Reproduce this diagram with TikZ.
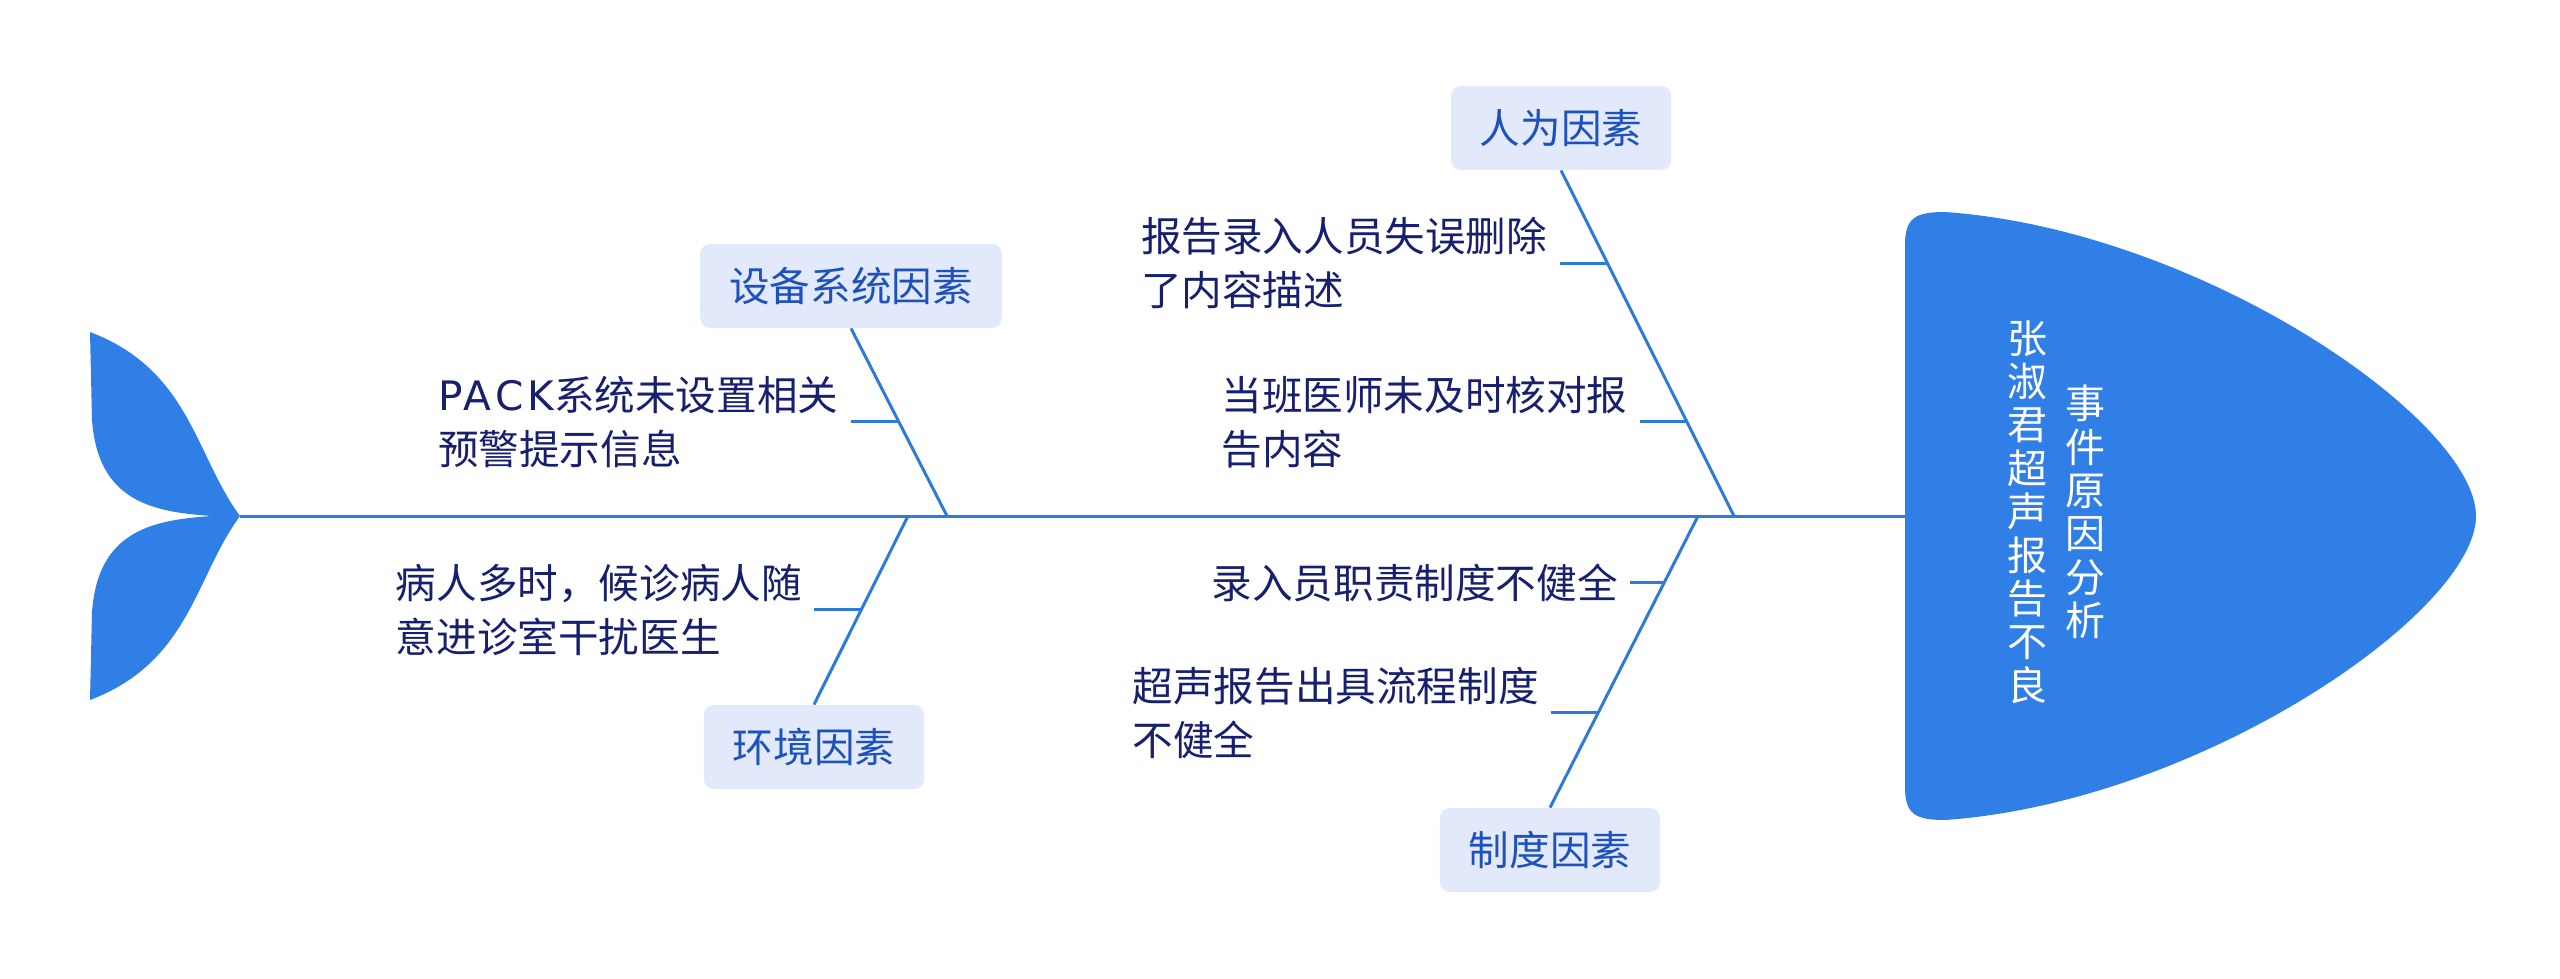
\documentclass[tikz,border=0pt]{standalone}
\usepackage{fontspec}
\setmainfont{Noto Sans CJK SC}
\newfontfamily\latinfont[LetterSpace=10]{DejaVu Sans}
\usetikzlibrary{calc,positioning}
\definecolor{fishblue}{HTML}{2F7FE6}
\definecolor{bonecol}{HTML}{2E7AD8}
\definecolor{boxfill}{HTML}{E2E9FB}
\definecolor{boxtext}{HTML}{1D52BE}
\definecolor{causetext}{HTML}{16206F}

\begin{document}
\begin{tikzpicture}[x=0.5pt,y=-0.5pt,font=\fontsize{20.3}{27}\selectfont,
  bone/.style={draw=bonecol,line width=1.5pt},
  factor/.style={fill=boxfill,text=boxtext,rounded corners=5pt,
    minimum height=42pt,inner xsep=14.5pt},
  cause/.style={text=causetext,align=left,inner sep=0pt,inner xsep=6pt,anchor=east},
  headtext/.style={text=white,align=center,font=\fontsize{20}{21.7}\selectfont}]
  \useasboundingbox (0,0) rectangle (2560,979);

  % tail and head
  \fill[fishblue] (240,516) .. controls (195,455) and (190,370) .. (90,332)
    -- (92,420) .. controls (98,500) and (150,512) .. (212,516)
    .. controls (150,520) and (98,532) .. (92,612)
    -- (90,700) .. controls (190,662) and (195,577) .. (240,516) -- cycle;
  \fill[fishblue] (1905,245) .. controls (1905,218) and (1915,212) .. (1945,212)
    .. controls (2200,230) and (2476,420) .. (2476,516)
    .. controls (2476,612) and (2200,802) .. (1945,820)
    .. controls (1915,820) and (1905,814) .. (1905,787) -- cycle;
  \node[headtext] (title) at (2085,512) {事\\件\\原\\因\\分\\析};
  \node[headtext] (subject) at (2027,512) {张\\淑\\君\\超\\声\\报\\告\\不\\良};

  % spine
  \coordinate (tail) at (240,516);
  \coordinate (head) at (1905,516);
  \draw[bone] (tail) -- (head);
  \coordinate (ej) at (947,516);
  \coordinate (vj) at (908,516);
  \coordinate (hj) at (1734,516);
  \coordinate (rj) at (1698,516);

  % factors
  \node[factor] (human) at (1561,128) {人为因素};
  \node[factor] (equip) at (851,286) {设备系统因素};
  \node[factor] (env) at (814,747) {环境因素};
  \node[factor] (rule) at (1550,850) {制度因素};
  \draw[bone] (human.south) -- (hj);
  \draw[bone] (equip.south) -- (ej);
  \draw[bone] (env.north) -- (vj);
  \draw[bone] (rule.north) -- (rj);

  % causes
  \coordinate (h1b) at ($(human.south)!0.269!(hj)$);
  \coordinate (h2b) at ($(human.south)!0.728!(hj)$);
  \coordinate (e1b) at ($(equip.south)!0.497!(ej)$);
  \coordinate (v1b) at ($(vj)!0.497!(env.north)$);
  \coordinate (r1b) at ($(rj)!0.229!(rule.north)$);
  \coordinate (r2b) at ($(rj)!0.675!(rule.north)$);
  \node[cause] (h1) at ($(h1b)+(-48,0)$) {报告录入人员失误删除\\了内容描述};
  \node[cause] (h2) at ($(h2b)+(-47,0)$) {当班医师未及时核对报\\告内容};
  \node[cause] (e1) at ($(e1b)+(-48,0)$) {{\latinfont PACK}系统未设置相关\\预警提示信息};
  \node[cause] (v1) at ($(v1b)+(-47,0)$) {病人多时，候诊病人随\\意进诊室干扰医生};
  \node[cause] (r1) at ($(r1b)+(-34,0)$) {录入员职责制度不健全};
  \node[cause] (r2) at ($(r2b)+(-47,0)$) {超声报告出具流程制度\\不健全};
  \foreach \c in {h1,h2,e1,v1,r1,r2}
    \draw[bone] (\c) -- (\c b);
\end{tikzpicture}
\end{document}
